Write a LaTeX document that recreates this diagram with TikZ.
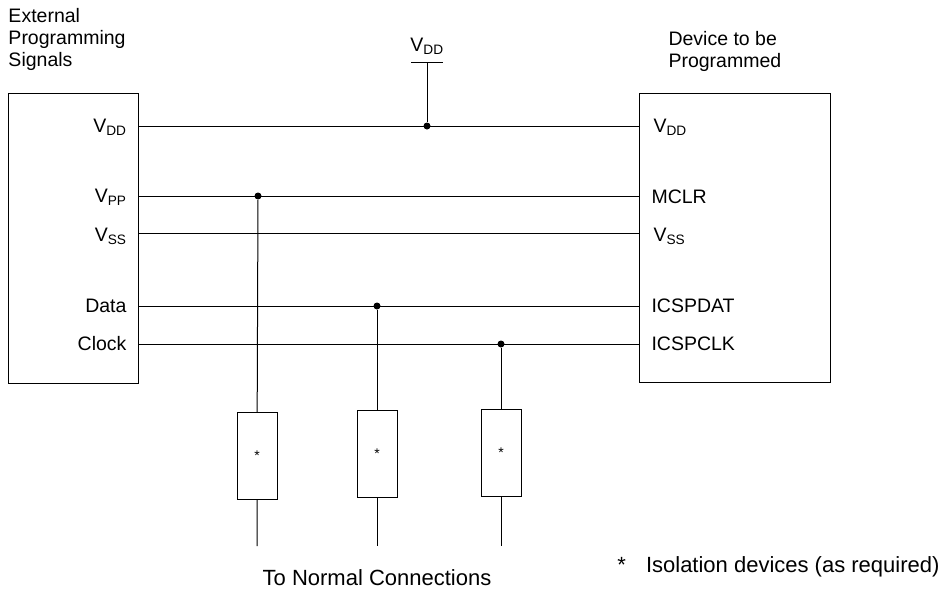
\documentclass[tikz,border=0pt]{standalone}
\usepackage{fontspec}
\setmainfont{Liberation Sans}
\begin{document}
\begin{tikzpicture}[x=1pt,y=-1pt,line width=1pt,
  lbl/.style={font=\fontsize{19.5}{22}\selectfont,inner sep=0pt},
  big/.style={font=\fontsize{22}{24}\selectfont,inner sep=0pt},
  dot/.style={circle,fill,inner sep=0pt,minimum size=7pt},
  iso/.style={draw,minimum width=40pt,minimum height=87pt,inner sep=0pt,font=\fontsize{14}{16}\selectfont}]
\useasboundingbox (0,0) rectangle (945,590);
\draw (8,93) rectangle (138,383);
\draw (639,93) rectangle (830,382);
\node[lbl,align=left,anchor=north west] (t1) at (8,8) {External\\Programming\\Signals};
\node[lbl,align=left,anchor=north west] (t2) at (668,31) {Device to be\\Programmed};
\node[lbl,anchor=east] (lv) at (127,127) {V\textsubscript{DD}};
\node[lbl,anchor=east] (lp) at (127,197) {V\textsubscript{PP}};
\node[lbl,anchor=east] (ls) at (127,236) {V\textsubscript{SS}};
\node[lbl,anchor=east] (ld) at (127,306) {Data};
\node[lbl,anchor=east] (lc) at (127,344) {Clock};
\node[lbl,anchor=west] (rv) at (653,127) {V\textsubscript{DD}};
\node[lbl,anchor=west] (rm) at (651,197) {MCLR};
\node[lbl,anchor=west] (rs) at (653,236) {V\textsubscript{SS}};
\node[lbl,anchor=west] (rd) at (651,306) {ICSPDAT};
\node[lbl,anchor=west] (rc) at (651,344) {ICSPCLK};
\draw (138,126) -- (639,126);
\draw (138,196) -- (639,196);
\draw (138,233) -- (639,233);
\draw (138,306) -- (639,306);
\draw (138,344) -- (639,344);
\node[lbl] (vt) at (427,46) {V\textsubscript{DD}};
\coordinate (vb) at (427,62);
\draw (411,62) -- (443,62);
\node[dot] (d0) at (427,126) {};
\draw (vb) -- (d0);
\node[dot] (d1) at (258,196) {};
\node[dot] (d2) at (377,306) {};
\node[dot] (d3) at (501,344) {};
\node[iso] (r1) at (257,456) {*};
\node[iso] (r2) at (377,454) {*};
\node[iso] (r3) at (501,453) {*};
\coordinate (e1) at (257,546);
\coordinate (e2) at (377,546);
\coordinate (e3) at (501,546);
\draw (d1) -- (r1) -- (e1);
\draw (d2) -- (r2) -- (e2);
\draw (d3) -- (r3) -- (e3);
\node[big] (tn) at (377,578) {To Normal Connections};
\node[big,anchor=east] (fn) at (940,567) {*\hspace{20pt}Isolation devices (as required)};
\end{tikzpicture}
\end{document}
